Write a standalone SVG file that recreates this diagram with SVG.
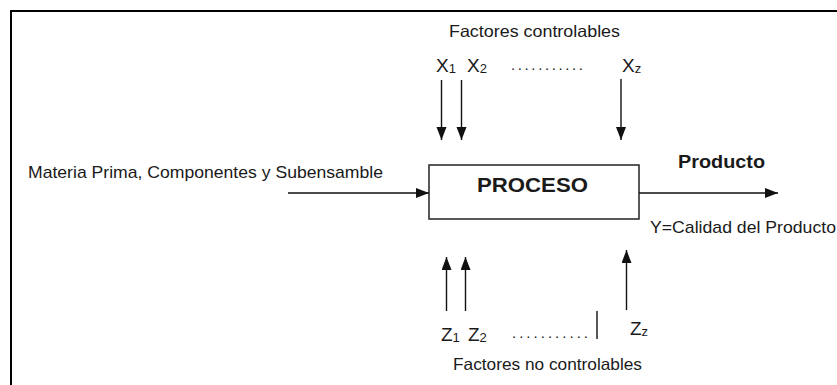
<svg xmlns="http://www.w3.org/2000/svg" width="837" height="385" viewBox="0 0 837 385">
  <style>
    .t { font-family: "Liberation Sans", Arial, sans-serif; fill: #1a1a1a; }
    .b { font-weight: bold; }
    .ln { stroke: #111; stroke-width: 1.4; fill: none; }
  </style>
  <defs>
    <marker id="head" markerUnits="userSpaceOnUse" markerWidth="14" markerHeight="12" refX="13" refY="5" orient="auto">
      <path d="M0,0 L13,5 L0,10 Z" fill="#111"/>
    </marker>
  </defs>

  <rect x="0" y="0" width="837" height="385" fill="#fff"/>
  <!-- outer frame -->
  <rect x="11" y="11" width="900" height="420" fill="none" stroke="#000" stroke-width="2"/>

  <!-- process block -->
  <g id="proceso">
    <rect x="429" y="165" width="210" height="54" fill="#fff" stroke="#222" stroke-width="1.5"/>
    <text class="t b" x="477" y="192" font-size="21" textLength="111" lengthAdjust="spacingAndGlyphs">PROCESO</text>
  </g>

  <g id="entrada">
    <text class="t" x="28" y="178" font-size="17" textLength="355" lengthAdjust="spacingAndGlyphs">Materia Prima, Componentes y Subensamble</text>
  </g>

  <g id="salida">
    <text class="t b" x="678" y="168" font-size="18" textLength="87" lengthAdjust="spacingAndGlyphs">Producto</text>
    <text class="t" x="650" y="233" font-size="17" textLength="186" lengthAdjust="spacingAndGlyphs">Y=Calidad del Producto</text>
  </g>

  <g id="controlables">
    <text class="t" x="449" y="37" font-size="16.5" textLength="171" lengthAdjust="spacingAndGlyphs">Factores controlables</text>
    <text class="t" x="436" y="72" font-size="19">X<tspan font-size="13" dy="1">1</tspan></text>
    <text class="t" x="467" y="72" font-size="19">X<tspan font-size="13" dy="1">2</tspan></text>
    <text class="t" x="511" y="70" font-size="15" textLength="72" lengthAdjust="spacing">...........</text>
    <text class="t" x="622" y="72" font-size="19">X<tspan font-size="13" dy="1">z</tspan></text>
  </g>

  <g id="no-controlables">
    <text class="t" x="441" y="341" font-size="19">Z<tspan font-size="13" dy="1">1</tspan></text>
    <text class="t" x="468" y="341" font-size="19">Z<tspan font-size="13" dy="1">2</tspan></text>
    <text class="t" x="512" y="338" font-size="15" textLength="76" lengthAdjust="spacing">...........</text>
    <text class="t" x="630" y="335" font-size="19">Z<tspan font-size="13" dy="1">z</tspan></text>
    <text class="t" x="453" y="370" font-size="16.5" textLength="189" lengthAdjust="spacingAndGlyphs">Factores no controlables</text>
  </g>

  <!-- connectors -->
  <g id="connectors" class="ln">
    <line x1="288" y1="193" x2="429" y2="193" marker-end="url(#head)"/>
    <line x1="639" y1="193" x2="778" y2="193" marker-end="url(#head)"/>
    <line x1="441.5" y1="80" x2="441.5" y2="140" marker-end="url(#head)"/>
    <line x1="461.5" y1="80" x2="461.5" y2="140" marker-end="url(#head)"/>
    <line x1="621" y1="79" x2="621" y2="140" marker-end="url(#head)"/>
    <line x1="446.5" y1="311" x2="446.5" y2="257" marker-end="url(#head)"/>
    <line x1="465.5" y1="311" x2="465.5" y2="257" marker-end="url(#head)"/>
    <line x1="626.5" y1="310" x2="626.5" y2="250" marker-end="url(#head)"/>
    <line x1="597" y1="311" x2="597" y2="339"/>
  </g>
</svg>
